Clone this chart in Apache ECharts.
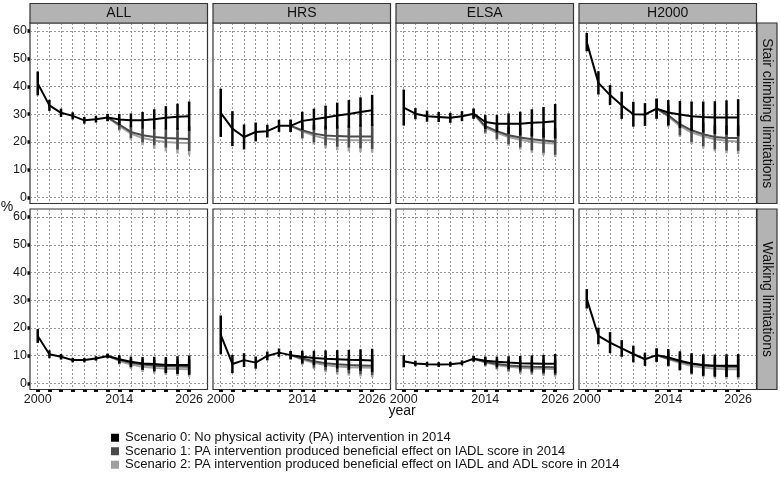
<!DOCTYPE html>
<html>
<head>
<meta charset="utf-8">
<script src="https://cdn.jsdelivr.net/npm/echarts@6/dist/echarts.min.js"></script>
<style>
html,body{margin:0;padding:0;background:#fff;}
#c{width:780px;height:478px;}
</style>
</head>
<body>
<div id="c"></div>
<script>
// ---------- data ----------
const studies = ['ALL', 'HRS', 'ELSA', 'H2000'];
const outcomes = ['Stair climbing limitations', 'Walking limitations'];
const scenarioNames = [
  'Scenario 0: No physical activity (PA) intervention in 2014',
  'Scenario 1: PA intervention produced beneficial effect on IADL score in 2014',
  'Scenario 2: PA intervention produced beneficial effect on IADL and ADL score in 2014'
];
const years = [2000, 2002, 2004, 2006, 2008, 2010, 2012, 2014, 2016, 2018, 2020, 2022, 2024, 2026];
const yearsScen = [2012, 2014, 2016, 2018, 2020, 2022, 2024, 2026];
const xTicks = [2000, 2002, 2004, 2006, 2008, 2010, 2012, 2014, 2016, 2018, 2020, 2022, 2024, 2026];
const xTickLabels = [2000, 2014, 2026];
const yTicks = [0, 10, 20, 30, 40, 50, 60];

// Stair climbing limitations (%)
const stairALL_s0    = [41.1, 33.2, 30.5, 29.4, 27.8, 28.2, 28.8, 28.1, 27.8, 27.8, 28.2, 28.7, 29.1, 29.3];
const stairALL_s0err = [4.3, 2.0, 1.5, 1.3, 1.2, 1.2, 1.3, 2.0, 2.5, 3.0, 3.6, 4.2, 4.7, 5.3];
const stairALL_s1    = [28.8, 26.3, 23.6, 22.4, 21.8, 21.4, 21.2, 21.1];
const stairALL_s2    = [28.8, 25.8, 23.0, 21.4, 20.5, 20.0, 19.7, 19.6];
const stairALL_s12err= [1.3, 1.8, 2.2, 2.6, 3.0, 3.4, 3.9, 4.4];

const stairHRS_s0    = [30.5, 24.8, 21.8, 23.6, 23.9, 25.8, 25.8, 27.6, 28.2, 28.8, 29.5, 30.1, 30.8, 31.4];
const stairHRS_s0err = [8.7, 6.3, 4.5, 3.4, 2.3, 2.2, 2.2, 3.3, 3.8, 4.3, 4.7, 5.0, 5.3, 5.6];
const stairHRS_s1    = [25.8, 24.2, 23.0, 22.3, 22.1, 22.0, 22.0, 22.0];
const stairHRS_s2    = [25.8, 23.8, 22.3, 21.2, 20.8, 20.6, 20.6, 20.6];
const stairHRS_s12err= [2.2, 2.8, 3.2, 3.5, 3.8, 4.0, 4.3, 4.5];

const stairELSA_s0    = [32.4, 30.2, 29.3, 29.0, 28.7, 29.3, 30.2, 27.2, 26.6, 26.6, 26.6, 26.9, 27.1, 27.5];
const stairELSA_s0err = [6.5, 2.0, 2.0, 1.8, 1.8, 1.8, 1.8, 2.5, 3.1, 3.7, 4.3, 4.9, 5.5, 6.2];
const stairELSA_s1    = [30.2, 25.7, 23.9, 22.4, 21.6, 21.0, 20.5, 20.2];
const stairELSA_s2    = [30.2, 25.2, 23.3, 21.8, 20.8, 20.1, 19.6, 19.4];
const stairELSA_s12err= [1.8, 2.3, 2.8, 3.2, 3.6, 4.0, 4.4, 4.8];

const stairH2000_s0    = [56.0, 41.3, 36.9, 33.2, 30.0, 29.9, 32.0, 30.6, 29.9, 29.3, 29.0, 28.8, 28.8, 28.8];
const stairH2000_s0err = [3.3, 4.2, 3.6, 4.9, 4.5, 4.1, 3.6, 4.5, 4.9, 5.3, 5.6, 5.9, 6.2, 6.6];
const stairH2000_s1    = [32.0, 29.6, 26.4, 24.2, 22.8, 21.8, 21.4, 21.4];
const stairH2000_s2    = [32.0, 29.2, 25.8, 23.4, 22.0, 21.0, 20.4, 20.2];
const stairH2000_s12err= [3.6, 3.8, 4.0, 4.2, 4.3, 4.4, 4.5, 4.6];

// Walking limitations (%)
const walkALL_s0    = [17.1, 10.5, 9.6, 8.4, 8.4, 9.0, 9.9, 8.7, 7.8, 7.2, 7.0, 6.6, 6.6, 6.6];
const walkALL_s0err = [2.5, 1.4, 1.0, 0.8, 0.8, 0.8, 0.8, 1.5, 1.9, 2.3, 2.6, 2.9, 3.2, 3.5];
const walkALL_s1    = [9.9, 8.5, 7.4, 6.8, 6.4, 6.2, 6.1, 6.0];
const walkALL_s2    = [9.9, 8.1, 6.8, 6.0, 5.6, 5.3, 5.2, 5.1];
const walkALL_s12err= [0.8, 1.3, 1.6, 1.9, 2.1, 2.3, 2.5, 2.7];

const walkHRS_s0    = [17.5, 7.0, 8.4, 7.5, 9.9, 11.1, 10.2, 9.6, 9.2, 8.9, 8.7, 8.5, 8.4, 8.3];
const walkHRS_s0err = [7.0, 3.3, 2.5, 2.2, 1.6, 1.5, 1.5, 2.2, 2.6, 3.0, 3.3, 3.6, 3.9, 4.2];
const walkHRS_s1    = [10.2, 9.0, 8.0, 7.3, 6.9, 6.6, 6.5, 6.4];
const walkHRS_s2    = [10.2, 8.6, 7.4, 6.6, 6.1, 5.8, 5.7, 5.6];
const walkHRS_s12err= [1.5, 2.0, 2.3, 2.6, 2.8, 3.0, 3.2, 3.4];

const walkELSA_s0    = [8.0, 7.2, 6.9, 6.8, 6.9, 7.4, 8.9, 8.2, 7.8, 7.5, 7.3, 7.2, 7.1, 7.1];
const walkELSA_s0err = [2.2, 1.0, 0.9, 0.9, 0.9, 0.9, 1.0, 1.5, 1.9, 2.3, 2.6, 2.9, 3.2, 3.5];
const walkELSA_s1    = [8.9, 7.8, 7.0, 6.5, 6.2, 6.0, 5.9, 5.8];
const walkELSA_s2    = [8.9, 7.5, 6.6, 6.0, 5.6, 5.4, 5.3, 5.2];
const walkELSA_s12err= [1.0, 1.4, 1.7, 2.0, 2.2, 2.4, 2.6, 2.8];

const walkH2000_s0    = [30.5, 17.1, 14.7, 12.6, 10.6, 8.7, 10.2, 9.4, 8.2, 7.2, 6.6, 6.4, 6.4, 6.4];
const walkH2000_s0err = [3.5, 3.0, 3.8, 3.0, 3.0, 2.4, 2.4, 3.0, 3.4, 3.7, 3.9, 4.0, 4.1, 4.2];
const walkH2000_s1    = [10.2, 9.0, 7.9, 7.0, 6.5, 6.2, 6.0, 6.0];
const walkH2000_s2    = [10.2, 8.7, 7.4, 6.3, 5.7, 5.3, 5.1, 5.1];
const walkH2000_s12err= [2.4, 2.7, 3.0, 3.2, 3.4, 3.5, 3.6, 3.7];

// table built from the arrays above
const table = [
  [
    [stairALL_s0, stairALL_s0err, stairALL_s1, stairALL_s2, stairALL_s12err],
    [stairHRS_s0, stairHRS_s0err, stairHRS_s1, stairHRS_s2, stairHRS_s12err],
    [stairELSA_s0, stairELSA_s0err, stairELSA_s1, stairELSA_s2, stairELSA_s12err],
    [stairH2000_s0, stairH2000_s0err, stairH2000_s1, stairH2000_s2, stairH2000_s12err]
  ],
  [
    [walkALL_s0, walkALL_s0err, walkALL_s1, walkALL_s2, walkALL_s12err],
    [walkHRS_s0, walkHRS_s0err, walkHRS_s1, walkHRS_s2, walkHRS_s12err],
    [walkELSA_s0, walkELSA_s0err, walkELSA_s1, walkELSA_s2, walkELSA_s12err],
    [walkH2000_s0, walkH2000_s0err, walkH2000_s1, walkH2000_s2, walkH2000_s12err]
  ]
];

// ---------- layout / style ----------
const FONT = 'Liberation Sans';
const colors = ['#000000', '#4a4a4a', '#a0a0a0'];
const colLeft = [30, 213, 396, 579];
const panelW = 177.5;
const rowTop = [23, 209];
const panelH = 180.5;
const stripFill = '#b3b3b3';
const borderCol = '#333333';

const grids = [], xAxes = [], yAxes = [], series = [], graphics = [];

function errRenderer(params, api) {
  const x = api.value(0);
  const p1 = api.coord([x, api.value(1)]);
  const p2 = api.coord([x, api.value(2)]);
  return {
    type: 'line',
    shape: { x1: p1[0], y1: p1[1], x2: p2[0], y2: p2[1] },
    style: { stroke: api.visual('color'), lineWidth: 2.5 }
  };
}

for (let r = 0; r < 2; r++) {
  for (let c = 0; c < 4; c++) {
    const gi = r * 4 + c;
    grids.push({
      left: colLeft[c], top: rowTop[r], width: panelW, height: panelH,
      show: true, backgroundColor: '#ffffff', borderColor: borderCol, borderWidth: 1.2
    });
    xAxes.push({
      type: 'value', gridIndex: gi, min: 1998.67, max: 2029.15,
      position: 'bottom',
      axisLine: { show: false, onZero: false },
      axisTick: { show: r === 1, customValues: xTicks, length: 2.5, lineStyle: { color: '#111', width: 4 } },
      axisLabel: { show: r === 1, customValues: xTickLabels, formatter: v => String(v),
        fontFamily: FONT, fontSize: 12.5, color: '#1a1a1a', margin: 4 },
      splitLine: { show: true, lineStyle: { color: '#8c8c8c', width: 0.9, type: [2, 2] } }
    });
    yAxes.push({
      type: 'value', gridIndex: gi, min: -2.2, max: 62.9,
      position: 'left',
      axisLine: { show: false, onZero: false },
      axisTick: { show: c === 0, customValues: yTicks, length: 2.5, lineStyle: { color: '#111', width: 3.5 } },
      axisLabel: { show: c === 0, customValues: yTicks, fontFamily: FONT, fontSize: 12.5, color: '#1a1a1a', margin: 3 },
      splitLine: { show: true, lineStyle: { color: '#8c8c8c', width: 0.9, type: [2, 2] } }
    });

    const d = table[r][c];
    const s0 = d[0], s0e = d[1], s1 = d[2], s2 = d[3], se = d[4];
    const lines = [
      { name: scenarioNames[2], vals: s2, err: se, xs: yearsScen, col: colors[2] },
      { name: scenarioNames[1], vals: s1, err: se, xs: yearsScen, col: colors[1] },
      { name: scenarioNames[0], vals: s0, err: s0e, xs: years, col: colors[0] }
    ];
    lines.forEach((L, k) => {
      series.push({
        type: 'custom', name: 'err' + k, xAxisIndex: gi, yAxisIndex: gi,
        renderItem: errRenderer, itemStyle: { color: L.col },
        encode: { x: 0, y: [1, 2] },
        data: L.xs.map((x, i) => [x, L.vals[i] - L.err[i], L.vals[i] + L.err[i]]),
        z: 2 + k * 2, silent: true
      });
      series.push({
        type: 'line', name: L.name, xAxisIndex: gi, yAxisIndex: gi,
        data: L.xs.map((x, i) => [x, L.vals[i]]),
        showSymbol: false, symbol: 'none',
        itemStyle: { color: L.col }, lineStyle: { color: L.col, width: 2 },
        z: 3 + k * 2, silent: true
      });
    });
  }
}

// facet strips (top)
studies.forEach((s, c) => {
  graphics.push({
    type: 'rect', shape: { x: colLeft[c], y: 3.5, width: panelW, height: 19.5 },
    style: { fill: stripFill, stroke: borderCol, lineWidth: 1.2 }, z: 10
  });
  graphics.push({
    type: 'text', x: colLeft[c] + panelW / 2, y: 13.5,
    style: { text: s, font: '14px "' + FONT + '"', fill: '#111', textAlign: 'center', textVerticalAlign: 'middle' }, z: 11
  });
});
// facet strips (right)
outcomes.forEach((o, r) => {
  const x0 = colLeft[3] + panelW + 0.5;
  graphics.push({
    type: 'rect', shape: { x: x0, y: rowTop[r], width: 20, height: panelH },
    style: { fill: stripFill, stroke: borderCol, lineWidth: 1.2 }, z: 10
  });
  graphics.push({
    type: 'text', x: x0 + 10, y: rowTop[r] + panelH / 2, rotation: -Math.PI / 2,
    style: { text: o, font: '14px "' + FONT + '"', fill: '#111', textAlign: 'center', textVerticalAlign: 'middle' }, z: 11
  });
});
// axis titles
graphics.push({
  type: 'text', x: 402, y: 411,
  style: { text: 'year', font: '14px "' + FONT + '"', fill: '#111', textAlign: 'center', textVerticalAlign: 'middle' }
});
graphics.push({
  type: 'text', x: 7, y: 207,
  style: { text: '%', font: '14px "' + FONT + '"', fill: '#111', textAlign: 'center', textVerticalAlign: 'middle' }
});

const chart = echarts.init(document.getElementById('c'), null, { renderer: 'canvas' });
chart.setOption({
  backgroundColor: '#ffffff',
  animation: false,
  grid: grids,
  xAxis: xAxes,
  yAxis: yAxes,
  series: series,
  graphic: graphics,
  legend: {
    data: scenarioNames.map((n, i) => ({ name: n, icon: 'rect', itemStyle: { color: colors[i] } })),
    orient: 'vertical', left: 111, top: 431, padding: 0,
    itemWidth: 8, itemHeight: 8, itemGap: 0,
    selectedMode: false,
    textStyle: { fontFamily: FONT, fontSize: 13, color: '#111', lineHeight: 13.5, padding: [0, 0, 0, 1] }
  }
});
</script>
</body>
</html>
